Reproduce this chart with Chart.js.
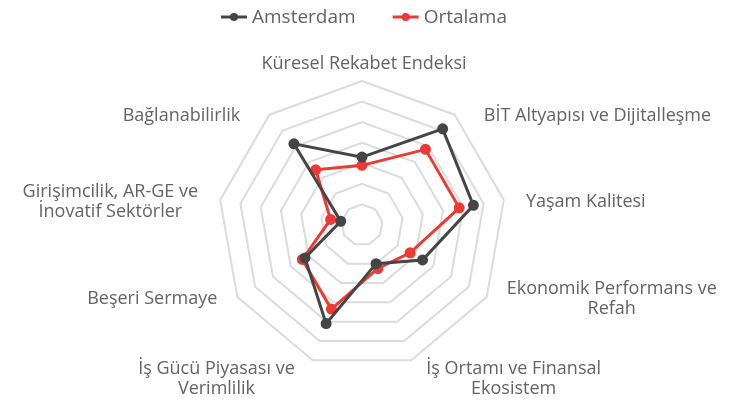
<!DOCTYPE html>
<html>
<head>
<meta charset="utf-8">
<script src="https://cdn.jsdelivr.net/npm/chart.js@4.4.1/dist/chart.umd.min.js"></script>
<style>
  html, body { margin: 0; padding: 0; background: #fff; }
  #wrap { width: 734px; height: 405px; }
</style>
</head>
<body>
<div id="wrap"><canvas id="myChart"></canvas></div>
<script>
const categories = [
  'Küresel Rekabet Endeksi',
  'BİT Altyapısı ve Dijitalleşme',
  'Yaşam Kalitesi',
  ['Ekonomik Performans ve', 'Refah'],
  ['İş Ortamı ve Finansal', 'Ekosistem'],
  ['İş Gücü Piyasası ve', 'Verimlilik'],
  'Beşeri Sermaye',
  ['Girişimcilik, AR-GE ve', 'İnovatif Sektörler'],
  'Bağlanabilirlik',
];
const amsterdam = [3.3, 6.1, 5.5, 3.4, 2.0, 5.1, 3.2, 1.05, 5.15];
const ortalama = [2.9, 4.8, 4.8, 2.7, 2.25, 4.35, 3.35, 1.55, 3.5];

const darkColor = '#454545';
const redColor = '#ee3a34';
const textColor = '#646464';
const fontFamily = "'Open Sans', 'DejaVu Sans', sans-serif";

// draws the legend (line with dot) and the axis names
const labelPlugin = {
  id: 'labelPlugin',
  afterDraw(chart) {
    const c = chart.ctx;
    const scale = chart.scales.r;
    c.save();

    // legend
    c.font = `19px ${fontFamily}`;
    c.textBaseline = 'middle';
    c.textAlign = 'left';
    const markW = 26;
    const gap = 5;
    const itemGap = 37;
    const items = chart.data.datasets.map((ds) => ({
      text: ds.label,
      color: ds.borderColor,
      w: markW + gap + c.measureText(ds.label).width,
    }));
    const total = items.reduce((s, it) => s + it.w, 0) + itemGap * (items.length - 1);
    let x = scale.xCenter + 2 - total / 2;
    const ly = 17;
    items.forEach((it) => {
      c.strokeStyle = it.color;
      c.lineWidth = 3;
      c.beginPath();
      c.moveTo(x, ly);
      c.lineTo(x + markW, ly);
      c.stroke();
      c.fillStyle = it.color;
      c.beginPath();
      c.arc(x + markW / 2, ly, 4, 0, Math.PI * 2);
      c.fill();
      c.fillStyle = textColor;
      c.fillText(it.text, x + markW + gap, ly + 1);
      x += it.w + itemGap;
    });

    // axis names
    c.font = `18px ${fontFamily}`;
    c.textAlign = 'center';
    const lineH = 20;
    chart.data.labels.forEach((lab, i) => {
      const lines = Array.isArray(lab) ? lab : [lab];
      const p = scale.getPointPosition(i, scale.drawingArea);
      const ang = (i * 360) / chart.data.labels.length;
      const bw = Math.max(...lines.map((l) => c.measureText(l).width));
      const bh = lines.length * lineH;
      const off = 20 + 12 * Math.max(0, Math.cos((ang * Math.PI) / 180));
      let left;
      let top;
      if (ang === 0) {
        left = p.x + 2 - bw / 2;
        top = p.y - 17.5 - lineH / 2 - (lines.length - 1) * lineH;
      } else if (ang > 140 && ang < 220) {
        left = ang < 180 ? p.x + 15 : p.x - 18 - bw;
        top = p.y - 1;
      } else {
        left = ang < 180 ? p.x + off : p.x - off - bw;
        top = p.y + 1.5 - bh / 2;
      }
      c.fillStyle = textColor;
      lines.forEach((l, k) => {
        c.fillText(l, left + bw / 2, top + lineH / 2 + k * lineH);
      });
    });
    c.restore();
  },
};

const ctx = document.getElementById('myChart').getContext('2d');
window.myChart = new Chart(ctx, {
  type: 'radar',
  data: {
    labels: categories,
    datasets: [
      {
        label: 'Amsterdam',
        data: amsterdam,
        borderColor: darkColor,
        backgroundColor: darkColor,
        pointBackgroundColor: darkColor,
        pointBorderColor: darkColor,
        borderWidth: 3,
        pointRadius: 4,
        fill: false,
      },
      {
        label: 'Ortalama',
        data: ortalama,
        borderColor: redColor,
        backgroundColor: redColor,
        pointBackgroundColor: redColor,
        pointBorderColor: redColor,
        borderWidth: 3,
        pointRadius: 4,
        fill: false,
      },
    ],
  },
  plugins: [labelPlugin],
  options: {
    responsive: true,
    maintainAspectRatio: false,
    animation: false,
    layout: { padding: { top: 81, bottom: 36, left: 0, right: 10 } },
    plugins: {
      legend: { display: false },
      tooltip: { enabled: false },
    },
    scales: {
      r: {
        min: 0,
        max: 7,
        ticks: { display: false, stepSize: 1 },
        angleLines: { display: false },
        grid: { color: '#dcdcdc', lineWidth: 2 },
        pointLabels: { display: false },
      },
    },
  },
});
</script>
</body>
</html>
